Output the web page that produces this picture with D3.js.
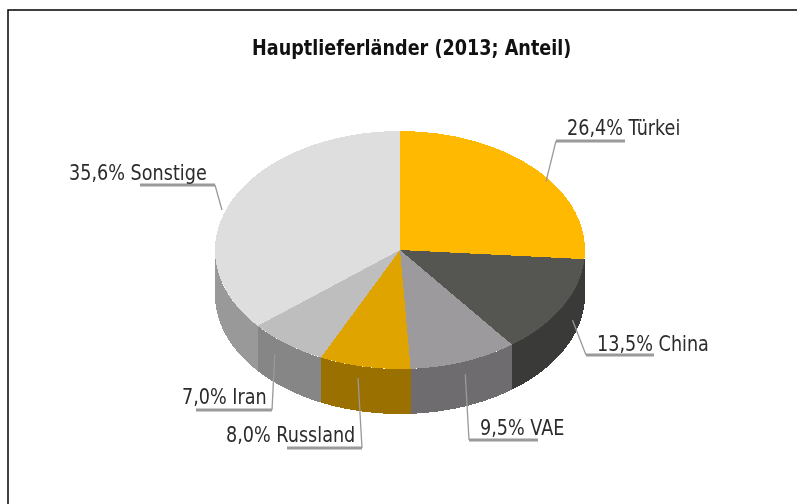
<!DOCTYPE html>
<style>
  html, body { margin: 0; background: #fff; }
  svg { display: block; }
  text { font-family: "DejaVu Sans", sans-serif; font-stretch: condensed; fill: #2b2b2b; filter: blur(0.4px); }
  .title { font-size: 19.6px; font-weight: bold; fill: #111; }
  .label { font-size: 19.6px; }
  .frame { fill: none; stroke: #000; stroke-width: 1.5; }
  .slices path { shape-rendering: crispEdges; }
</style>
<body>
</body>
<script src="https://cdn.jsdelivr.net/npm/d3@7/dist/d3.min.js"></script>
<script>
  const countries = ['Türkei', 'China', 'VAE', 'Russland', 'Iran', 'Sonstige'];
  const shares = [26.4, 13.5, 9.5, 8.0, 7.0, 35.6];
  const topColors = ['#ffb900', '#555652', '#9c9a9c', '#e0a400', '#bebebe', '#dedede'];
  const wallColors = ['#3a3b38', '#3a3b38', '#6e6c6e', '#9a7000', '#868686', '#999999'];

  // label text start + baseline, leader elbow + leader end
  const labelPos = [
    {x: 567, y: 135, ex: 556, ey: 141, hx: 625},
    {x: 597, y: 351, ex: 586, ey: 355, hx: 654},
    {x: 480, y: 435, ex: 469, ey: 440, hx: 538},
    {x: 226, y: 442, ex: 362, ey: 448, hx: 287},
    {x: 182, y: 404, ex: 272, ey: 410, hx: 196},
    {x: 69, y: 180, ex: 215, ey: 185, hx: 140}
  ];

  const w = 797, h = 504;
  const cx = 400, cy = 250, rx = 185, ry = 119, depth = 45;
  const fmt = v => v.toFixed(1).replace('.', ',') + '%';
  const deg = Math.PI / 180;
  const tall = 'scale(1, 1.12)'; // the original's letters are stretched upward

  const svg = d3.select('body').append('svg').attr('width', w).attr('height', h);

  svg.append('rect').attr('class', 'frame')
    .attr('x', 8).attr('y', 10).attr('width', w + 20).attr('height', h + 20);

  svg.append('text').attr('class', 'title')
    .attr('transform', `translate(252, 55) ${tall}`)
    .text('Hauptlieferländer (2013; Anteil)');

  // the original's slices sit about a degree ahead of their shares
  const warp = d3.scaleLinear().domain([0, 231.8 * deg, 360 * deg]).range([0, 230.3 * deg, 360 * deg]);
  const rawPie = d3.pie().sort(null)(shares);
  const pie = rawPie.map(d => ({...d, startAngle: warp(d.startAngle), endAngle: warp(d.endAngle)}));
  const g = svg.append('g').attr('transform', `translate(${cx}, ${cy})`);

  // side wall, only the part facing the viewer (angles pi/2 .. 3pi/2)
  const px = a => rx * Math.sin(a);
  const py = a => -ry * Math.cos(a);
  function wallPath(d) {
    const a0 = Math.max(d.startAngle, Math.PI / 2);
    const a1 = Math.min(d.endAngle, Math.PI * 3 / 2);
    if (a1 <= a0) return null;
    const as = d3.range(0, 61).map(i => a0 + (a1 - a0) * i / 60);
    const top = as.map(a => [px(a), py(a)]);
    const bottom = as.slice().reverse().map(a => [px(a), py(a) + depth]);
    return d3.line()(top.concat(bottom)) + 'Z';
  }

  g.append('g').attr('class', 'slices').selectAll('path')
    .data(pie)
    .join('path')
    .attr('d', wallPath)
    .attr('fill', (d, i) => wallColors[i]);

  g.append('g').attr('class', 'slices').attr('transform', `scale(1, ${ry / rx})`)
    .selectAll('path')
    .data(pie)
    .join('path')
    .attr('d', d3.arc().innerRadius(0).outerRadius(rx))
    .attr('fill', (d, i) => topColors[i]);

  // leaders start a bit outside of the slice's middle angle
  const leaders = svg.append('g').attr('fill', 'none').attr('stroke', '#9a9a9a');
  rawPie.forEach((d, i) => {
    const mid = (d.startAngle + d.endAngle) / 2;
    const lx = cx + px(mid) * 1.07, ly = cy + py(mid) + 12;
    const p = labelPos[i];
    leaders.append('path').attr('stroke-width', 1.3)
      .attr('d', d3.line()([[lx, ly], [p.ex, p.ey]]));
    leaders.append('path').attr('stroke-width', 3)
      .attr('d', d3.line()([[p.ex, p.ey], [p.hx, p.ey]]));
  });

  svg.append('g').selectAll('text')
    .data(countries)
    .join('text')
    .attr('class', 'label')
    .attr('transform', (d, i) => `translate(${labelPos[i].x}, ${labelPos[i].y}) ${tall}`)
    .text((d, i) => `${fmt(shares[i])} ${d}`);
</script>
